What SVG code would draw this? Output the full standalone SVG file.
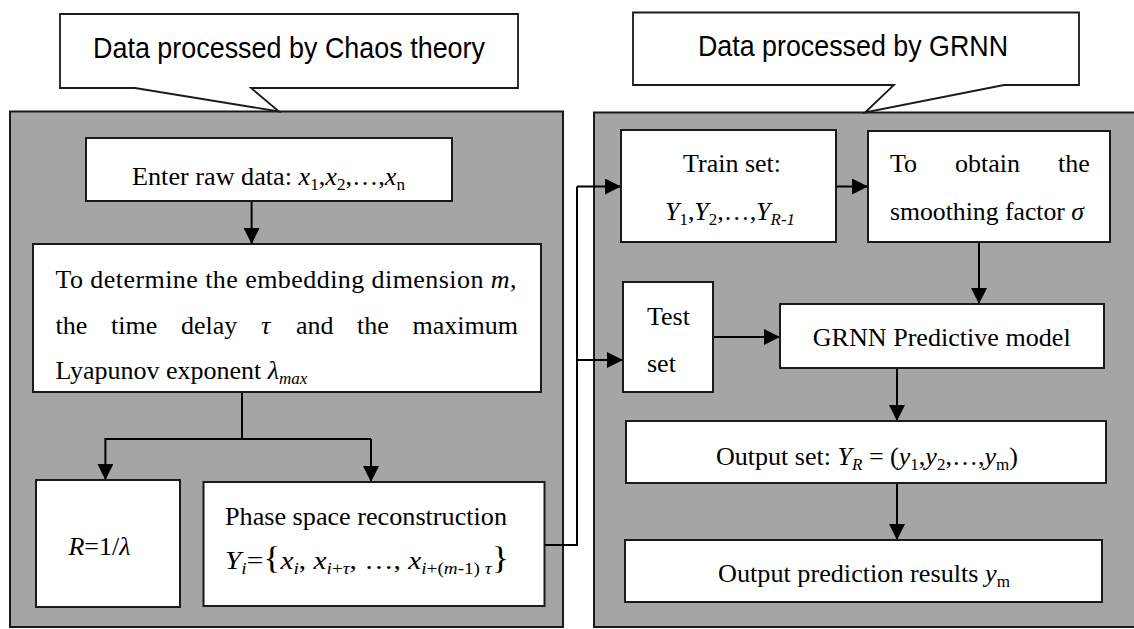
<svg xmlns="http://www.w3.org/2000/svg" width="1134" height="629" viewBox="0 0 1134 629">
  <defs>
    <marker id="arrow" markerUnits="userSpaceOnUse" markerWidth="16" markerHeight="16" refX="16" refY="8" orient="auto">
      <path d="M0,0 L16,8 L0,16 Z" fill="#000"/>
    </marker>
    <style>
      .panel { fill: #a5a5a5; stroke: #1a1a1a; stroke-width: 2; }
      .box { fill: #ffffff; stroke: #1a1a1a; stroke-width: 2; }
      .callout { fill: #ffffff; stroke: #1a1a1a; stroke-width: 1.8; stroke-linejoin: miter; }
      .conn { fill: none; stroke: #000; stroke-width: 2; }
      .conn path { marker-end: url(#arrow); }
      .t { font-family: "Liberation Serif", "Times New Roman", serif; font-size: 26px; fill: #000; }
      .s { font-family: "Liberation Sans", Arial, sans-serif; font-size: 29px; fill: #000; }
      .i { font-style: italic; }
      .sub { font-size: 17px; }
      .br { font-size: 32px; }
    </style>
  </defs>

  <rect width="1134" height="629" fill="#ffffff"/>

  <!-- Two processing stages -->
  <g id="stage-chaos">
    <rect class="panel" x="10" y="111.5" width="553" height="515.5"/>
  </g>
  <g id="stage-grnn">
    <rect class="panel" x="594" y="112.5" width="560" height="514.5"/>
  </g>

  <!-- Stage titles (callouts) -->
  <g id="title-chaos">
    <path class="callout" d="M60,14 H518 V88 H251 L279,111.5 L135,88 H60 Z"/>
    <text class="s" x="93" y="58" textLength="392" lengthAdjust="spacingAndGlyphs">Data processed by Chaos theory</text>
  </g>
  <g id="title-grnn">
    <path class="callout" d="M633,12.5 H1079 V85 H1004 L865,112.5 L894,85 H633 Z"/>
    <text class="s" x="698" y="56" textLength="310" lengthAdjust="spacingAndGlyphs">Data processed by GRNN</text>
  </g>

  <!-- Connectors -->
  <g id="connectors" class="conn">
    <path d="M251.6,201 V244"/>
    <polyline points="242,392 242,439 371,439"/>
    <path d="M242,439 H105.4 V480"/>
    <path d="M371,439 V482"/>
    <polyline points="544.5,545 577,545 577,186.5"/>
    <path d="M577,186.5 H621"/>
    <path d="M577,360 H623"/>
    <path d="M836,186.5 H868"/>
    <path d="M979,242 V304"/>
    <path d="M713,337 H780"/>
    <path d="M897,368 V421"/>
    <path d="M897,483 V540"/>
  </g>

  <!-- Chaos theory stage -->
  <g id="node-raw-data">
    <rect class="box" x="86" y="138" width="366" height="63"/>
    <text class="t" x="132" y="185" textLength="273" lengthAdjust="spacingAndGlyphs">Enter raw data: <tspan class="i">x</tspan><tspan class="sub" dy="5">1</tspan><tspan dy="-5">,</tspan><tspan class="i">x</tspan><tspan class="sub" dy="5">2</tspan><tspan dy="-5">,…,</tspan><tspan class="i">x</tspan><tspan class="sub" dy="5">n</tspan></text>
  </g>

  <g id="node-parameters">
    <rect class="box" x="33" y="244" width="508" height="148"/>
    <text class="t" x="55.5" y="288" textLength="461" lengthAdjust="spacing">To determine the embedding dimension <tspan class="i">m</tspan>,</text>
    <text class="t" y="334"><tspan x="55.5">the</tspan><tspan x="111">time</tspan><tspan x="181">delay</tspan><tspan x="261" class="i">τ</tspan><tspan x="296">and</tspan><tspan x="357">the</tspan><tspan x="412.5">maximum</tspan></text>
    <text class="t" x="55.5" y="379">Lyapunov exponent <tspan class="i">λ</tspan><tspan class="i sub" dy="5">max</tspan></text>
  </g>

  <g id="node-r">
    <rect class="box" x="36" y="480" width="144" height="127"/>
    <text class="t" x="68.4" y="555"><tspan class="i">R</tspan>=1/<tspan class="i">λ</tspan></text>
  </g>

  <g id="node-phase-space">
    <rect class="box" x="203.5" y="482" width="341" height="124"/>
    <text class="t" x="225" y="525" textLength="282" lengthAdjust="spacingAndGlyphs">Phase space reconstruction</text>
    <text class="t" x="225" y="569" textLength="284" lengthAdjust="spacingAndGlyphs"><tspan class="i">Y</tspan><tspan class="i sub" dy="5">i</tspan><tspan dy="-5">=</tspan><tspan class="br">{</tspan><tspan class="i">x</tspan><tspan class="i sub" dy="5">i</tspan><tspan dy="-5">, </tspan><tspan class="i">x</tspan><tspan class="sub" dy="5"><tspan class="i">i</tspan>+<tspan class="i">τ</tspan></tspan><tspan dy="-5">,  …,  </tspan><tspan class="i">x</tspan><tspan class="sub" dy="5"><tspan class="i">i</tspan>+(<tspan class="i">m</tspan>-1) <tspan class="i">τ</tspan></tspan><tspan class="br" dy="-5">}</tspan></text>
  </g>

  <!-- GRNN stage -->
  <g id="node-train-set">
    <rect class="box" x="621" y="130" width="215" height="112"/>
    <text class="t" x="683" y="172">Train set:</text>
    <text class="t" x="665" y="220" textLength="130" lengthAdjust="spacingAndGlyphs"><tspan class="i">Y</tspan><tspan class="sub" dy="5">1</tspan><tspan dy="-5">,</tspan><tspan class="i">Y</tspan><tspan class="sub" dy="5">2</tspan><tspan dy="-5">,…,</tspan><tspan class="i">Y</tspan><tspan class="i sub" dy="5">R-1</tspan></text>
  </g>

  <g id="node-smoothing">
    <rect class="box" x="868" y="131" width="242" height="111"/>
    <text class="t" y="172"><tspan x="890">To</tspan><tspan x="955">obtain</tspan><tspan x="1058">the</tspan></text>
    <text class="t" x="890" y="220" textLength="194" lengthAdjust="spacingAndGlyphs">smoothing factor <tspan class="i">σ</tspan></text>
  </g>

  <g id="node-test-set">
    <rect class="box" x="623" y="282" width="90" height="110"/>
    <text class="t" x="647" y="325">Test</text>
    <text class="t" x="647" y="372">set</text>
  </g>

  <g id="node-grnn-model">
    <rect class="box" x="780" y="304" width="324" height="64"/>
    <text class="t" x="812.7" y="346" textLength="258" lengthAdjust="spacingAndGlyphs">GRNN Predictive model</text>
  </g>

  <g id="node-output-set">
    <rect class="box" x="626" y="421" width="480" height="62"/>
    <text class="t" x="716" y="465" textLength="302" lengthAdjust="spacingAndGlyphs">Output set: <tspan class="i">Y</tspan><tspan class="i sub" dy="5">R</tspan><tspan dy="-5"> = (</tspan><tspan class="i">y</tspan><tspan class="sub" dy="5">1</tspan><tspan dy="-5">,</tspan><tspan class="i">y</tspan><tspan class="sub" dy="5">2</tspan><tspan dy="-5">,…,</tspan><tspan class="i">y</tspan><tspan class="sub" dy="5">m</tspan><tspan dy="-5">)</tspan></text>
  </g>

  <g id="node-prediction">
    <rect class="box" x="625" y="540" width="477" height="62"/>
    <text class="t" x="718" y="582" textLength="292" lengthAdjust="spacingAndGlyphs">Output prediction results <tspan class="i">y</tspan><tspan class="sub" dy="5">m</tspan></text>
  </g>
</svg>
